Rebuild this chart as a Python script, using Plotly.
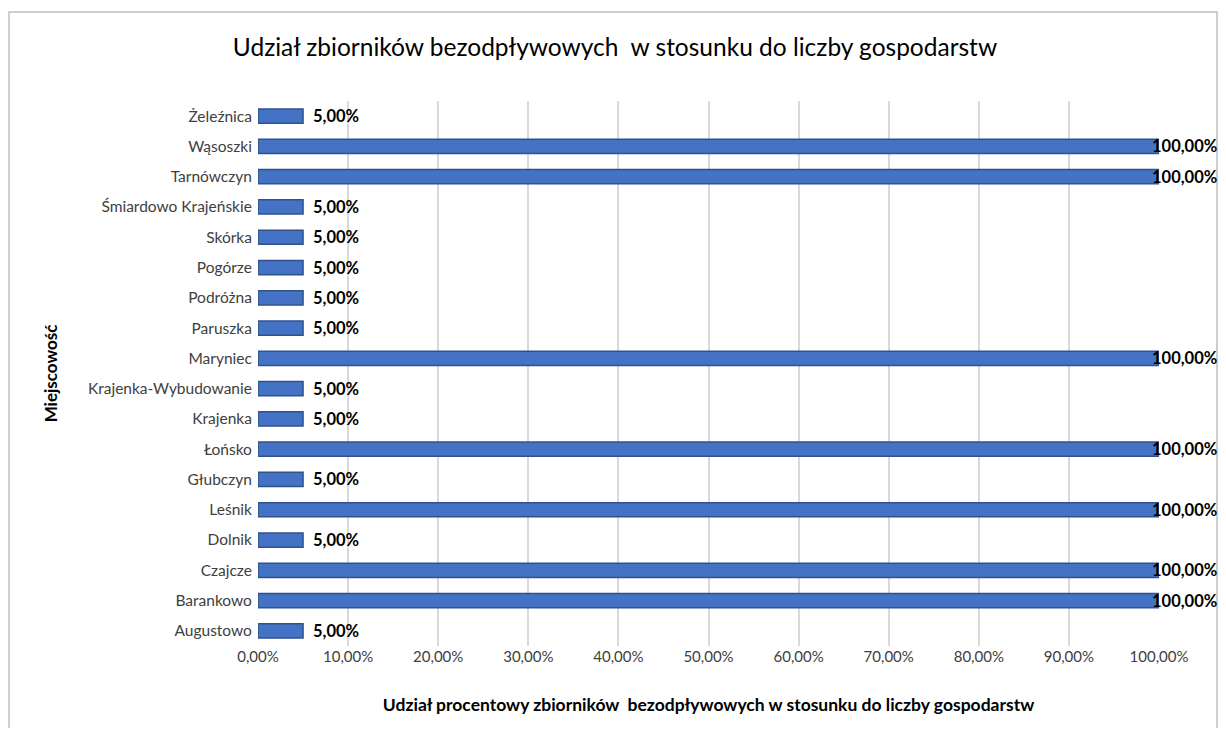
import plotly.graph_objects as go

categories = ["Augustowo", "Barankowo", "Czajcze", "Dolnik", "Leśnik", "Głubczyn", "Łońsko",
              "Krajenka", "Krajenka-Wybudowanie", "Maryniec", "Paruszka", "Podróżna", "Pogórze",
              "Skórka", "Śmiardowo Krajeńskie", "Tarnówczyn", "Wąsoszki", "Żeleźnica"]
values = [0.05, 1.0, 1.0, 0.05, 1.0, 0.05, 1.0, 0.05, 0.05, 1.0, 0.05, 0.05, 0.05,
          0.05, 0.05, 1.0, 1.0, 0.05]
x_ticks = [0, 0.1, 0.2, 0.3, 0.4, 0.5, 0.6, 0.7, 0.8, 0.9, 1.0]

title_text = "Udział zbiorników bezodpływowych  w stosunku do liczby gospodarstw"
x_title = "Udział procentowy zbiorników  bezodpływowych w stosunku do liczby gospodarstw"
y_title = "Miejscowość"

FONT = "Lato, 'Open Sans', sans-serif"

fig = go.Figure()
fig.add_trace(go.Bar(
    y=categories, x=values, orientation="h",
    marker=dict(color="#4472c4", line=dict(color="#2f528f", width=1.5)),
    width=0.47,
    hoverinfo="skip",
))

x_max = max(values)
for cat, v in zip(categories, values):
    pct = f"{v * 100:.2f}".replace(".", ",") + "%"
    fig.add_annotation(
        x=v, y=cat, xref="x", yref="y", text=pct, showarrow=False,
        xanchor="left", yanchor="middle",
        xshift=(-9 if v >= x_max else 8),
        font=dict(family=FONT, size=16.5, color="#000000", weight="bold"),
    )

W, H = 1210, 720
L, R, T, B = 250, 59, 93, 82
pw, ph = W - L - R, H - T - B

def px_x(p):
    return (p - L) / pw

def px_y(p):
    return (H - B - p) / ph

fig.update_layout(
    width=W, height=H,
    margin=dict(l=L, r=R, t=T, b=B),
    paper_bgcolor="white", plot_bgcolor="white",
    separators=", ",
    font=dict(family=FONT, size=15, color="#404040"),
    showlegend=False,
    title=dict(text=title_text, x=607 / W, xanchor="center", xref="container",
               y=1 - 39 / H, yanchor="middle", yref="container",
               font=dict(family=FONT, size=24.5, color="#000000")),
    xaxis=dict(range=[0, 1.0], tickvals=x_ticks, tickformat=".2%",
               showgrid=True, gridcolor="#d9d9d9", gridwidth=1.5,
               zeroline=False, showline=False, ticks="",
               tickfont=dict(family=FONT, size=15, color="#404040"),
               title=dict(text=x_title, standoff=34,
                          font=dict(family=FONT, size=17.5, color="#000000", weight="bold"))),
    yaxis=dict(categoryorder="array", categoryarray=categories,
               range=[-0.5, len(categories) - 0.5],
               showgrid=False, zeroline=False, showline=False, ticks="outside",
               ticklen=2, tickcolor="rgba(0,0,0,0)",
               tickfont=dict(family=FONT, size=15.5, color="#404040"),
               title=dict(text=y_title, standoff=25,
                          font=dict(family=FONT, size=17, color="#000000", weight="bold"))),
    shapes=[dict(type="rect", xref="paper", yref="paper",
                 x0=px_x(1), x1=px_x(W - 1), y0=px_y(H + 20), y1=px_y(4),
                 line=dict(color="#bfbfbf", width=1.5), fillcolor="rgba(0,0,0,0)", layer="below")],
)

fig.write_html("out.html")
